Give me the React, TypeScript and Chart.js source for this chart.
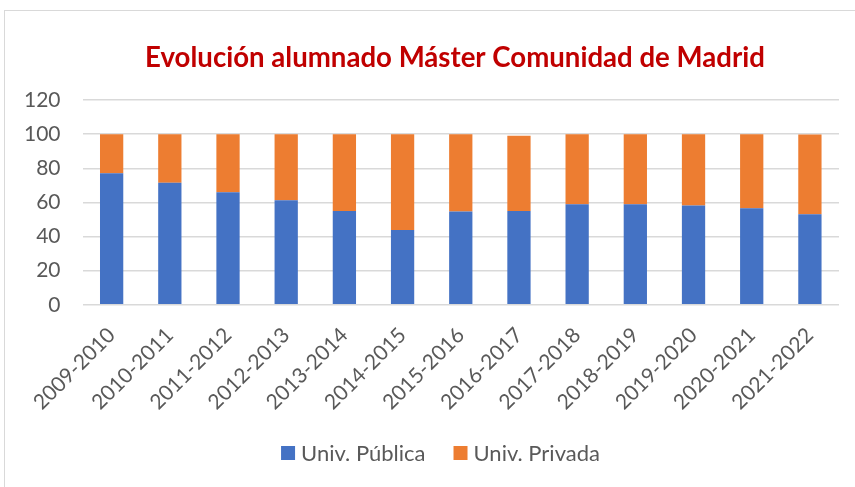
import React, { useEffect, useRef } from "react";
import { Chart, registerables } from "chart.js";

Chart.register(...registerables);

const categories = [
  "2009-2010", "2010-2011", "2011-2012", "2012-2013", "2013-2014", "2014-2015", "2015-2016",
  "2016-2017", "2017-2018", "2018-2019", "2019-2020", "2020-2021", "2021-2022",
];
const publica = [77.0, 71.5, 66.0, 61.3, 54.9, 43.8, 54.7, 55.0, 58.9, 58.9, 58.2, 56.6, 53.1];
const privada = [23.0, 28.5, 34.0, 38.7, 45.1, 56.2, 45.3, 44.0, 41.1, 41.1, 41.8, 43.4, 46.7];
const yTicks = [0, 20, 40, 60, 80, 100, 120];
const titleText = "Evolución alumnado Máster Comunidad de Madrid";

const FONT = "Lato, 'Open Sans', sans-serif";

const decorPlugin = {
  id: "decor",
  afterDraw(chart: any) {
    const ctx = chart.ctx;
    ctx.save();
    // title
    ctx.fillStyle = "#C00000";
    ctx.font = `bold 27.6px ${FONT}`;
    ctx.textAlign = "center";
    ctx.textBaseline = "middle";
    ctx.fillText(titleText, 455, 58);
    // legend
    ctx.font = `22px ${FONT}`;
    ctx.textAlign = "left";
    const box = 14;
    const gap = 6;
    const itemGap = 28;
    const ds = chart.data.datasets;
    const widths = ds.map((d: any) => box + gap + ctx.measureText(d.label).width);
    const total = widths.reduce((a: number, b: number) => a + b, 0) + itemGap * (ds.length - 1);
    let x = 440.5 - total / 2;
    const y = 453;
    ds.forEach((d: any, i: number) => {
      ctx.fillStyle = d.backgroundColor;
      ctx.fillRect(x, y - box / 2, box, box);
      ctx.fillStyle = "#595959";
      ctx.fillText(d.label, x + box + gap, y + 1);
      x += widths[i] + itemGap;
    });
    ctx.restore();
  },
};

export default function App() {
  const ref = useRef<HTMLCanvasElement>(null);
  useEffect(() => {
    if (!ref.current) return;
    const chart = new Chart(ref.current, {
      type: "bar",
      data: {
        labels: categories,
        datasets: [
          { label: "Univ. Pública", data: publica, backgroundColor: "#4472C4", borderWidth: 0 },
          { label: "Univ. Privada", data: privada, backgroundColor: "#ED7D31", borderWidth: 0 },
        ],
      },
      plugins: [decorPlugin],
      options: {
        responsive: false,
        animation: false,
        layout: { padding: { left: 2, right: 16, top: 100, bottom: 62 } },
        datasets: { bar: { barPercentage: 0.4, categoryPercentage: 1 } },
        plugins: {
          title: { display: false },
          legend: { display: false },
          tooltip: { enabled: false },
        },
        scales: {
          x: {
            stacked: true,
            grid: { display: false },
            border: { display: false },
            ticks: {
              color: "#595959",
              font: { family: FONT, size: 21 },
              maxRotation: 45,
              minRotation: 45,
              padding: 10,
            },
          },
          y: {
            stacked: true,
            min: 0,
            max: 120,
            afterBuildTicks: (axis: any) => {
              axis.ticks = yTicks.map((v) => ({ value: v }));
            },
            grid: { color: "#d9d9d9", lineWidth: 1.5, drawTicks: false },
            border: { display: false },
            ticks: {
              color: "#595959",
              font: { family: FONT, size: 21 },
              padding: 22,
            },
          },
        },
      },
    });
    return () => chart.destroy();
  }, []);
  return (
    <div style={{ position: "absolute", left: 0, top: 0, width: 855, height: 487, overflow: "hidden", background: "#fff" }}>
      <div style={{ position: "absolute", left: 4, top: 10, width: 900, height: 600, border: "1px solid #d9d9d9" }} />
      <canvas ref={ref} width={855} height={487} style={{ position: "absolute", left: 0, top: 0 }} />
    </div>
  );
}
